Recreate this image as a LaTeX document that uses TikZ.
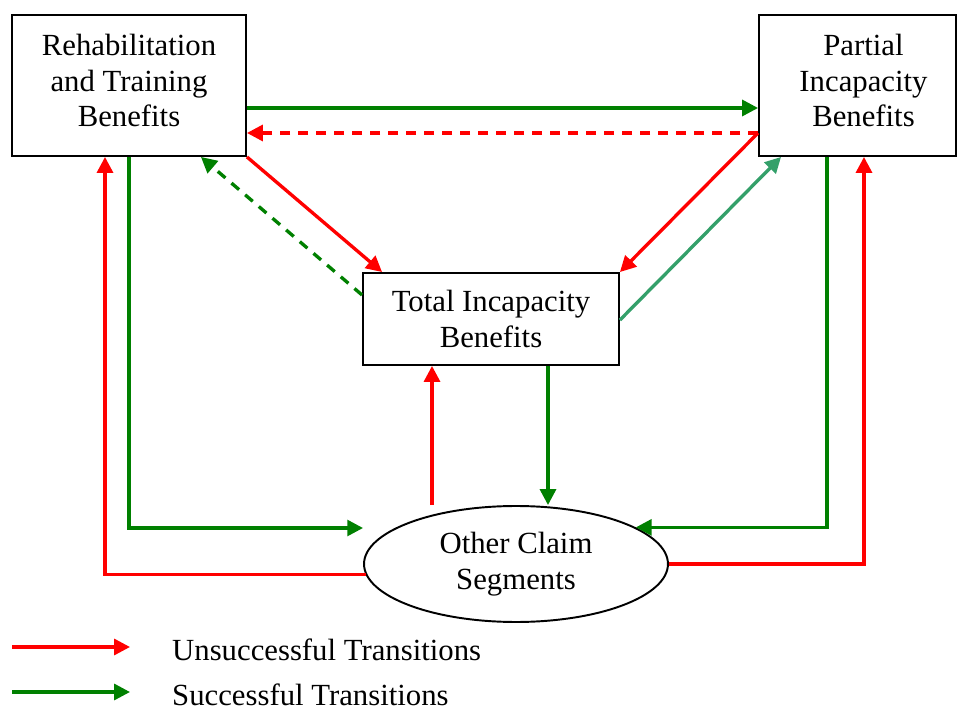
\documentclass[tikz,border=0pt]{standalone}
\usepackage{fontspec}
\setmainfont{Liberation Serif}
\usetikzlibrary{arrows.meta, shapes.geometric}

\definecolor{failred}{RGB}{255,0,0}
\definecolor{okgreen}{RGB}{0,128,0}
\definecolor{seagrn}{RGB}{52,160,106}

\tikzset{
    benefit/.style={draw, line width=1.1pt, align=center, inner sep=0pt},
    segment/.style={draw, ellipse, line width=1.1pt, align=center, inner sep=0pt},
    fail/.style={draw=failred, line width=1.9pt, -{Triangle[length=9pt, width=9pt, fill=failred]}},
    succ/.style={draw=okgreen, line width=1.9pt, -{Triangle[length=9pt, width=9pt, fill=okgreen]}},
    backdash/.style={dash pattern=on 0.2cm off 0.16cm}
}

\begin{document}
\begin{tikzpicture}[x=0.02cm, y=-0.02cm, font=\fontsize{17.5pt}{20.2pt}\selectfont]
        \useasboundingbox (0,0) rectangle (957,709);
        \node (rehab) at (129,85.5) [benefit, minimum width=4.68cm, minimum height=2.82cm] {Rehabilitation\\and Training\\Benefits\\[-0.51cm]};
        \node (partial) at (857.5,85.5) [benefit, minimum width=3.94cm, minimum height=2.82cm] {\hspace*{0.24cm}Partial\\\hspace*{0.24cm}Incapacity\\\hspace*{0.24cm}Benefits\\[-0.51cm]};
        \node (total) at (491,319) [benefit, minimum width=5.12cm, minimum height=1.84cm] {Total Incapacity\\Benefits};
        \node (other) at (516,564) [segment, minimum width=6.08cm, minimum height=2.32cm] {Other Claim\\Segments};
        \coordinate (upT) at ([xshift=-1.18cm]total.south);
        \coordinate (dnT) at ([xshift=1.14cm]total.south);

        % top row
        \draw[succ] ([yshift=-0.45cm]rehab.east) -- ([yshift=-0.45cm]partial.west);
        \draw[fail, backdash] ([yshift=-0.95cm]partial.west) -- ([yshift=-0.95cm]rehab.east);
        % diagonals
        \draw[fail] (rehab.south east) -- ([xshift=0.4cm]total.north west);
        \draw[succ, backdash] ([yshift=0.48cm]total.west) -- ([xshift=-0.92cm]rehab.south east);
        \draw[fail] ([yshift=-0.95cm]partial.west) -- (total.north east);
        \draw[succ, draw=seagrn, -{Triangle[length=9pt, width=9pt, fill=seagrn]}] ([yshift=-0.02cm]total.east) -- ([xshift=0.46cm]partial.south west);
        % to and from other segments
        \draw[fail] (upT |- other.north) -- (upT);
        \draw[succ] (dnT) -- (dnT |- other.north);
        \draw[fail] (other.184) -| ([xshift=-0.48cm]rehab.south);
        \draw[succ] (rehab.south) |- ([yshift=0.72cm]other.west);
        \draw[succ] ([xshift=-0.61cm]partial.south) |- (other.17);
        \draw[fail] (other.east) -| ([xshift=0.13cm]partial.south);

        % key
        \coordinate (key1) at (12,647);
        \coordinate (key2) at (12,692);
        \node (lbl1) at (166,650) [anchor=west] {Unsuccessful Transitions};
        \node (lbl2) at (166,695) [anchor=west] {Successful Transitions};
        \draw[fail] (key1) -- ++(118,0);
        \draw[succ] (key2) -- ++(118,0);

    \end{tikzpicture}
\end{document}
